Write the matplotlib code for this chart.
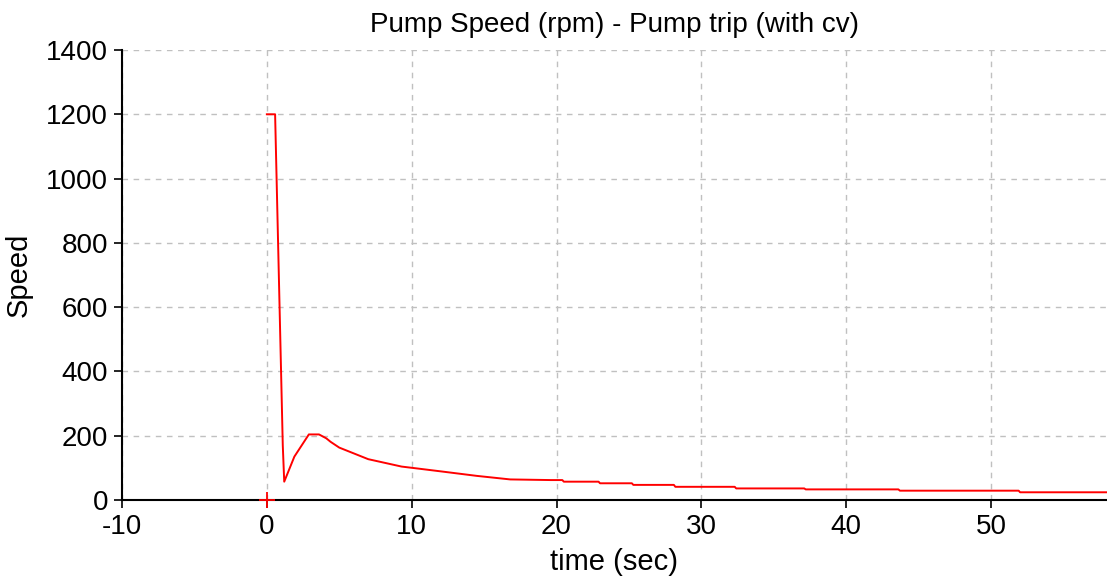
import matplotlib

matplotlib.use("Agg")

import matplotlib.pyplot as plt

plt.rcParams["font.family"] = ["Liberation Sans", "DejaVu Sans"]
plt.rcParams["axes.unicode_minus"] = False

# pump speed after trip
time_sec = [0.0, 0.57, 1.1, 1.2, 1.9, 2.9, 3.6, 4.1, 4.4, 5.0, 7.0, 9.3, 10.4,
            12.2, 14.5, 16.8, 19.6, 20.4, 20.5, 22.9, 23.0, 25.2, 25.3, 28.1,
            28.2, 32.3, 32.4, 37.1, 37.2, 43.6, 43.7, 51.9, 52.0, 58.5]
speed_rpm = [1200, 1200, 170, 57, 135, 204, 204, 192, 181, 163, 127, 104, 98,
             88, 75, 64, 62, 62, 57, 57, 52, 52, 47, 47,
             41, 41, 36, 36, 33, 33, 29, 29, 24, 24]

marker_t = [0.0]
marker_v = [0.0]

x_ticks = [-10, 0, 10, 20, 30, 40, 50]
y_ticks = [0, 200, 400, 600, 800, 1000, 1200, 1400]

fig = plt.figure(figsize=(11.07, 5.82), dpi=100, facecolor="white")
ax = fig.add_axes([0.1102, 0.1409, 0.8898, 0.7732])

ax.plot(time_sec, speed_rpm, color="#FF0000", linewidth=1.4, zorder=3)
ax.plot(marker_t, marker_v, linestyle="none", marker="+", markersize=12,
        markeredgewidth=1.3, color="#FF0000", zorder=4, clip_on=False)

ax.set_xlim(-10, 58)
ax.set_ylim(0, 1400)
ax.set_xticks(x_ticks)
ax.set_yticks(y_ticks)
ax.tick_params(axis="both", labelsize=20, length=6, width=1.2, direction="out",
               color="black", pad=4)

ax.grid(True, color="#C0C0C0", linestyle=(0, (4, 4)), linewidth=1.0)
ax.set_axisbelow(True)

ax.spines["right"].set_visible(False)
ax.spines["top"].set_visible(False)
ax.spines["left"].set_linewidth(1.5)
ax.spines["bottom"].set_linewidth(1.5)

ax.set_title("Pump Speed (rpm) - Pump trip (with cv)", fontsize=20, pad=13)
ax.set_xlabel("time (sec)", fontsize=21, labelpad=6)
ax.set_ylabel("Speed", fontsize=21, labelpad=10)

fig.savefig("out.png", dpi=100, facecolor="white")
